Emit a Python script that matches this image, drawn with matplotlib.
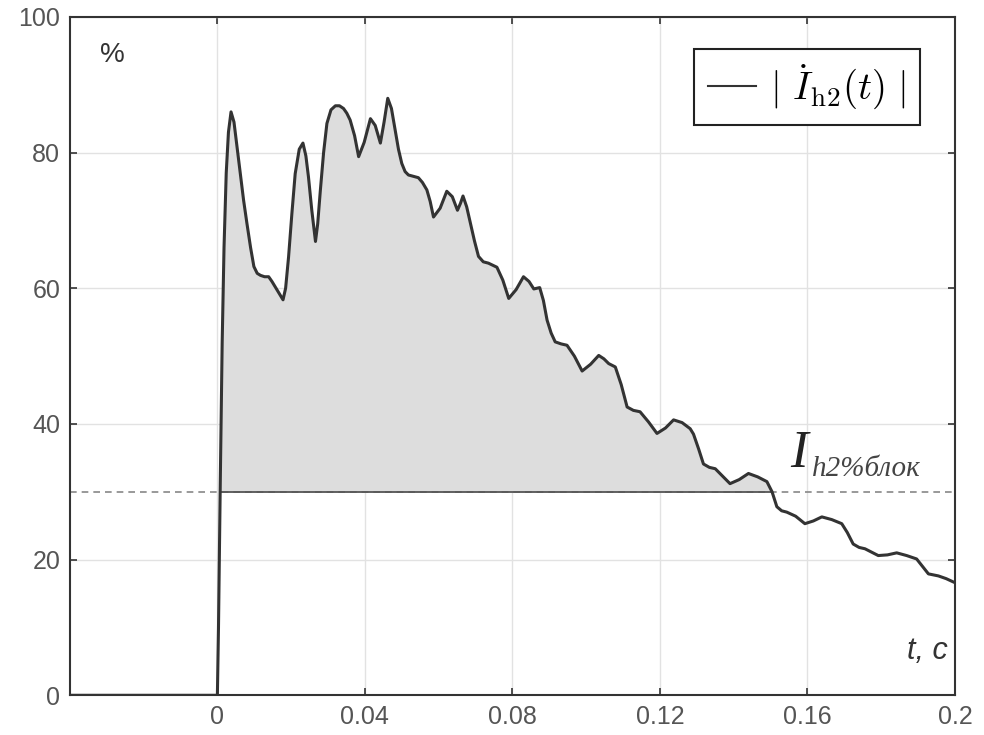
import numpy as np
import matplotlib
matplotlib.use("Agg")
import matplotlib.pyplot as plt
from matplotlib.lines import Line2D

# time, s
t = [-0.04, 0.0, 0.0003, 0.0008, 0.0013, 0.0018, 0.0024, 0.003, 0.0037, 0.0045,
     0.0053, 0.0062, 0.0071, 0.008, 0.009, 0.0099, 0.0108, 0.0117, 0.0128, 0.0139,
     0.0148, 0.0157, 0.0168, 0.0178, 0.0185, 0.0193, 0.0202, 0.0211, 0.0222, 0.0232,
     0.024, 0.0247, 0.0256, 0.0266, 0.0272, 0.0279, 0.0288, 0.0297, 0.0308, 0.032,
     0.0331, 0.0342, 0.0351, 0.036, 0.0372, 0.0383, 0.0398, 0.0415, 0.0428, 0.0442,
     0.0452, 0.0462, 0.0472, 0.0482, 0.0491, 0.05, 0.0509, 0.0518, 0.0531, 0.0545,
     0.0556, 0.0568, 0.0577, 0.0586, 0.0604, 0.0622, 0.0637, 0.0651, 0.0659, 0.0666,
     0.0676, 0.0686, 0.0697, 0.0708, 0.0721, 0.0735, 0.0758, 0.0774, 0.079, 0.081,
     0.083, 0.0845, 0.0858, 0.0874, 0.0884, 0.0894, 0.0905, 0.0916, 0.0932, 0.0948,
     0.0968, 0.0989, 0.1012, 0.1034, 0.1048, 0.1061, 0.1079, 0.1095, 0.1111, 0.1128,
     0.1146, 0.1169, 0.1192, 0.1215, 0.1237, 0.126, 0.1282, 0.1291, 0.1305, 0.1318,
     0.1334, 0.135, 0.137, 0.139, 0.1415, 0.144, 0.1465, 0.149, 0.1504, 0.1517,
     0.153, 0.1544, 0.1568, 0.1593, 0.1616, 0.1639, 0.1666, 0.1693, 0.1708, 0.1724,
     0.174, 0.1756, 0.1774, 0.1792, 0.1817, 0.1842, 0.1869, 0.1896, 0.1912, 0.1928,
     0.1955, 0.1976, 0.2]

# |I_h2(t)|, %
ih2 = [0, 0, 10, 32, 52, 66, 77, 83, 86, 84.5,
       81, 77, 73, 69.6, 66, 63.2, 62.2, 61.9, 61.7, 61.7,
       61.0, 60.2, 59.2, 58.3, 60, 64.6, 71, 76.9, 80.5, 81.4,
       79.5, 76.4, 71.5, 66.9, 69.5, 74.3, 80, 84.3, 86.3, 86.9,
       86.9, 86.5, 85.8, 84.8, 82.5, 79.4, 81.5, 85.0, 84, 81.4,
       84.5, 88.0, 86.5, 83.3, 80.5, 78.4, 77.2, 76.7, 76.5, 76.3,
       75.6, 74.5, 72.8, 70.5, 71.8, 74.3, 73.5, 71.5, 72.5, 73.6,
       72.0, 69.6, 67.0, 64.7, 63.9, 63.7, 63.1, 61.2, 58.5, 59.8,
       61.7, 61.0, 59.9, 60.1, 58.2, 55.3, 53.4, 52.1, 51.8, 51.6,
       50.0, 47.8, 48.8, 50.1, 49.6, 48.9, 48.4, 45.8, 42.5, 42.0,
       41.8, 40.3, 38.6, 39.4, 40.6, 40.2, 39.3, 38.5, 36.3, 34.1,
       33.6, 33.4, 32.3, 31.2, 31.8, 32.7, 32.2, 31.5, 30.0, 27.8,
       27.2, 27.0, 26.4, 25.3, 25.7, 26.3, 25.9, 25.3, 24.0, 22.3,
       21.8, 21.6, 21.1, 20.6, 20.7, 21.0, 20.6, 20.1, 19.0, 17.9,
       17.6, 17.2, 16.6]

threshold = 30  # I_h2%блок
xticks = [0, 0.04, 0.08, 0.12, 0.16, 0.2]
xlabels = ["0", "0.04", "0.08", "0.12", "0.16", "0.2"]
yticks = [0, 20, 40, 60, 80, 100]

t = np.array(t)
ih2 = np.array(ih2)

plt.rcParams["font.family"] = ["Liberation Sans", "DejaVu Sans"]
plt.rcParams["mathtext.fontset"] = "cm"

fig = plt.figure(figsize=(9.84, 7.35), dpi=100)
ax = fig.add_axes([0.071, 0.054, 0.8995, 0.923])

ax.fill_between(t, ih2, threshold, where=ih2 >= threshold, interpolate=True,
                color="#dddddd", lw=0, zorder=1)
ax.axhline(threshold, ls=(0, (4, 3)), color="#888888", lw=1.2, zorder=2)
ax.plot(t, np.where(ih2 >= threshold, threshold, np.nan), color="#555555",
        lw=1.3, zorder=2)
ax.plot(t, ih2, color="#333333", lw=2.2, zorder=3)

ax.set_xlim(-0.04, 0.2)
ax.set_ylim(0, 100)
ax.set_xticks(xticks)
ax.set_xticklabels(xlabels)
ax.set_yticks(yticks)
ax.grid(True, color="#e2e2e2", lw=1.0, zorder=0)
ax.set_axisbelow(True)
ax.tick_params(direction="in", length=5, width=1.2, top=True, right=True,
               labelsize=18, labelcolor="#555555", color="#333333", pad=7)
for sp in ax.spines.values():
    sp.set_linewidth(1.5)
    sp.set_color("#333333")

ax.text(0.034, 0.944, "%", transform=ax.transAxes, fontsize=20,
        color="#333333", ha="left", va="center")
ax.text(0.992, 0.066, "t, c", transform=ax.transAxes, fontsize=22,
        style="italic", color="#333333", ha="right", va="center")

ax.text(0.1553, 33.7, "I", fontsize=38, family=["Liberation Serif"],
        style="italic", color="#222222", ha="left", va="baseline")
ax.text(0.1612, 32.4, "h2%блок", fontsize=21, family=["Liberation Serif"],
        style="italic", color="#444444", ha="left", va="baseline")

handle = Line2D([], [], color="#333333", lw=1.5)
leg = ax.legend([handle], [r"$|\ \dot{I}_{\mathrm{h2}}(t)\ |$"],
                loc="upper right", bbox_to_anchor=(0.96, 0.953),
                fontsize=28, handlelength=1.25, handletextpad=0.35,
                fancybox=False, framealpha=1, borderpad=0.35,
                borderaxespad=0, edgecolor="#222222")
leg.get_frame().set_linewidth(1.5)

fig.savefig("out.png", dpi=100)
